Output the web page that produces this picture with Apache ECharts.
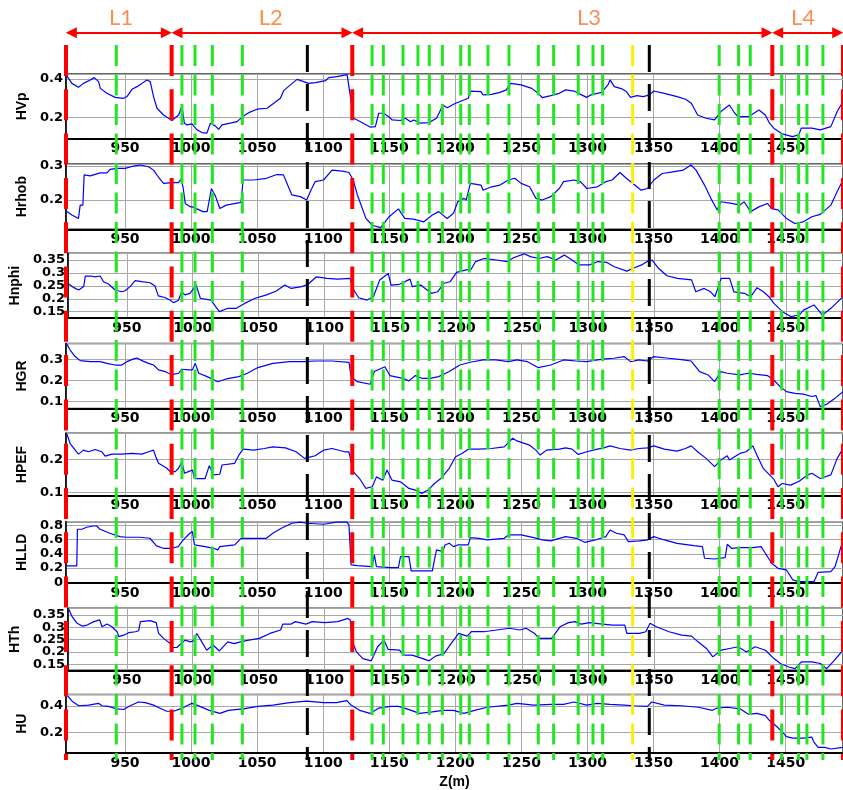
<!DOCTYPE html>
<html><head><meta charset="utf-8">
<script src="https://cdn.jsdelivr.net/npm/echarts@6/dist/echarts.min.js"></script>
<style>html,body{margin:0;padding:0;background:#fff}#c{width:843px;height:790px}</style>
</head><body><div id="c"></div>
<script>
// ---------- axis range (depth, m) ----------
const Z_MIN = 905.35, Z_MAX = 1493.4;

// ---------- curves ----------
const hvpZ = [906,909.8,914.8,918.6,923.7,926.7,930,931.3,936.3,942.6,948.9,951.5,955.3,959.1,962.8,966.6,969.1,971.6,974.2,979.2,983,985.5,990.6,993.1,994.9,996.9,1000.7,1004.5,1008.3,1012,1014.6,1018.3,1020.9,1023.4,1029.7,1034.8,1039.8,1043.6,1050,1057.5,1062.6,1067.6,1070.1,1075.2,1080.2,1085.3,1089,1094.1,1101.7,1104.2,1110.5,1118.1,1119.3,1120.6,1123.1,1128.2,1135.8,1139.5,1142,1145.8,1149.6,1152.2,1158.5,1162.3,1166,1168.6,1173.6,1179.9,1185.8,1190.6,1193.8,1200.2,1209.8,1211.4,1219.4,1221,1227.4,1233.8,1238.6,1241.8,1249.8,1257.8,1262.6,1265.8,1272.3,1278.7,1283.5,1289.9,1293.1,1299.5,1302.7,1310.7,1315.5,1317.1,1320.3,1326.2,1329.4,1332.6,1337.4,1342.2,1347,1350.2,1358.2,1367.8,1374.3,1378.6,1383.4,1389.8,1396.2,1401,1407.4,1410.6,1413.8,1421.8,1429.8,1434.6,1437.8,1441,1447.4,1455.1,1459.9,1461.8,1469.8,1476.2,1484.2,1489,1493.4];
const hvp = [.416,.377,.357,.377,.395,.407,.386,.351,.325,.304,.299,.308,.346,.36,.377,.395,.386,.308,.247,.212,.195,.183,.212,.259,.169,.16,.165,.134,.12,.117,.169,.155,.137,.16,.169,.177,.207,.224,.242,.247,.273,.299,.339,.369,.398,.386,.377,.381,.391,.407,.412,.423,.423,.308,.195,.177,.148,.151,.221,.221,.203,.186,.183,.195,.177,.186,.169,.172,.195,.264,.25,.273,.299,.337,.334,.317,.32,.33,.343,.377,.369,.351,.325,.303,.313,.325,.343,.337,.325,.304,.317,.33,.369,.395,.36,.348,.334,.304,.313,.308,.317,.337,.325,.308,.294,.273,.212,.195,.186,.23,.264,.23,.203,.203,.238,.212,.169,.143,.113,.099,.108,.143,.143,.134,.151,.23,.282];

const hrhobZ = [906,909.8,914.8,916.1,918.1,919.1,923.7,931.2,936.3,938.8,943.9,950.2,956.5,961.5,967.8,971.6,975.4,979.2,985.5,990.5,992.4,993.9,995.6,999.4,1001,1009,1012.2,1015.4,1018.6,1021.8,1026.6,1037.8,1039.4,1047.4,1057,1065,1069.9,1073.1,1076.3,1082.7,1087.5,1090.7,1093.9,1100.3,1106.7,1114.7,1119.5,1122.7,1125.9,1132.3,1137.1,1143.5,1149.9,1156.9,1161.7,1168.2,1176.2,1182.6,1187.4,1193.8,1198.6,1201.8,1206.6,1208.2,1211.4,1219.4,1221,1227.4,1233.8,1240.2,1245,1249.8,1256.2,1261,1265.8,1272.3,1278.7,1281.9,1289.9,1294.7,1299.5,1307.5,1313.9,1318.7,1324.6,1329.4,1335.8,1340.6,1345.4,1350.2,1356.6,1364.6,1372.6,1378.4,1382.2,1388.6,1393.4,1398.2,1400.9,1409,1415.4,1418.6,1423.4,1429.8,1436.2,1439.4,1444.2,1450.6,1457,1463.4,1469.8,1476.2,1484.2,1489,1493.4];
const hrhob = [.166,.156,.146,.185,.185,.274,.271,.28,.28,.29,.293,.293,.3,.303,.298,.288,.267,.249,.251,.251,.261,.239,.19,.18,.18,.166,.166,.234,.21,.175,.185,.193,.259,.259,.264,.275,.274,.244,.215,.21,.2,.229,.254,.259,.288,.285,.281,.259,.215,.146,.126,.119,.151,.174,.146,.144,.136,.156,.166,.146,.161,.195,.205,.2,.249,.244,.229,.239,.244,.259,.264,.249,.239,.205,.2,.21,.234,.254,.259,.254,.234,.239,.254,.259,.281,.264,.244,.229,.234,.259,.278,.283,.288,.303,.288,.244,.205,.171,.195,.19,.185,.195,.166,.18,.19,.175,.171,.146,.131,.136,.151,.158,.185,.225,.259];

const hnphiZ = [906,909.8,913.5,917.3,918.5,922.3,926,929.8,932.3,936.1,941.1,946.2,948.7,952.5,956.3,961.3,967.6,971.4,973.9,978.9,982.7,985.3,989.1,991.6,994.1,997.9,1002.6,1005.8,1013.8,1020.2,1026.6,1033,1039.4,1047.4,1055.4,1063.5,1069.9,1074.7,1082.7,1087.5,1093.9,1101.9,1109.9,1119.5,1121.1,1125.9,1132.3,1137.1,1141.9,1148.3,1150.5,1156.9,1164.9,1166.6,1173,1181,1185.8,1190.6,1195.4,1200.2,1206.6,1211.4,1214.6,1221,1230.6,1238.6,1243.4,1251.4,1256.2,1262.6,1269,1275.5,1281.9,1286.7,1293.1,1301.1,1307.5,1313.9,1319.8,1329.4,1334.2,1340.6,1345.4,1348.6,1353.4,1359.8,1367.8,1378.5,1381.7,1388.1,1392.9,1396.2,1401,1407.4,1410.6,1418.6,1423.4,1428.2,1433,1437.2,1441,1447.4,1453.8,1460.2,1463.4,1471.4,1477.8,1484.2,1493.4];
const hnphi = [.257,.243,.234,.247,.288,.288,.285,.288,.266,.257,.234,.227,.231,.247,.27,.266,.262,.249,.211,.205,.195,.185,.193,.227,.215,.221,.253,.202,.195,.15,.163,.163,.182,.202,.214,.23,.253,.24,.247,.256,.285,.279,.276,.279,.243,.204,.195,.208,.273,.298,.253,.256,.276,.247,.253,.221,.227,.26,.266,.302,.311,.315,.344,.356,.35,.344,.359,.374,.363,.356,.363,.35,.369,.354,.331,.331,.344,.341,.324,.307,.318,.331,.346,.35,.318,.289,.279,.273,.227,.24,.227,.208,.279,.279,.227,.221,.208,.243,.227,.208,.182,.15,.131,.137,.156,.176,.137,.163,.208];

const hgrZ = [906,908.5,912.3,916.1,923.7,931.2,936.3,942.6,947.6,951.4,956.5,959,962.8,967.8,971.6,975.4,980.4,982.9,986.7,990.5,993,998,1001,1003.2,1005.8,1012.2,1020.2,1026.6,1036.2,1042.6,1050.6,1061.9,1074.7,1085.9,1093.9,1106.7,1119.5,1121.1,1125.9,1135.5,1138.7,1146.7,1150.5,1160.1,1164.9,1169.8,1174.6,1181,1187.4,1195.4,1203.4,1211.4,1221,1230.6,1240.2,1246.6,1254.6,1262.6,1272.3,1281.9,1291.5,1299.5,1307.5,1313.9,1319.8,1327.8,1332.6,1339,1345.4,1350.2,1361.4,1372.6,1378.5,1384.9,1391.3,1396.2,1401,1405.8,1415.4,1421.8,1428.2,1436.2,1441,1445.8,1450.6,1457,1463.4,1469.8,1473,1476.2,1481,1487.4,1493.4];
const hgr = [.372,.344,.313,.294,.289,.289,.281,.273,.273,.289,.302,.306,.294,.281,.273,.25,.242,.234,.229,.234,.253,.25,.25,.281,.234,.218,.194,.207,.218,.234,.261,.281,.289,.289,.292,.292,.286,.218,.194,.182,.242,.265,.223,.21,.198,.223,.21,.21,.218,.242,.273,.286,.297,.297,.289,.297,.289,.261,.273,.297,.292,.289,.297,.302,.305,.313,.289,.297,.292,.313,.305,.297,.292,.242,.226,.194,.242,.234,.226,.234,.229,.223,.202,.171,.147,.139,.135,.124,.128,.076,.087,.116,.147];

const hpefZ = [906,908.5,912.3,914.8,918.6,922.4,927.4,932.5,935,940.1,947.6,955.2,962.8,967.8,971.6,973.3,975.4,981.7,984.2,988,990.5,993,995,998,1001,1002.6,1010.6,1013.8,1017,1021.8,1023.4,1033,1036.2,1039.4,1047.4,1055.4,1061.9,1071.5,1079.5,1085.9,1093.9,1100.3,1106.7,1116.3,1119.5,1122.7,1127.5,1132.3,1137.1,1140.3,1145.1,1148.3,1152.1,1158.5,1164.9,1169.8,1174.6,1179.4,1184.2,1189,1195.4,1200.2,1205,1209.8,1217.8,1227.4,1237,1243.4,1246.6,1256.2,1261,1264.2,1269,1278.7,1283.5,1288.3,1293.1,1299.5,1307.5,1312.3,1317.1,1324.6,1332.6,1339,1345.4,1350.2,1358.2,1367.8,1374.2,1378.5,1383.4,1389.8,1396.2,1401,1405.8,1407.4,1415.4,1420.2,1425.1,1428.2,1433,1437.8,1441,1444.2,1447.4,1453.8,1460.2,1466.6,1469.8,1476.2,1484.2,1489,1493.4];
const hpef = [.277,.248,.228,.216,.228,.223,.23,.223,.21,.216,.216,.218,.216,.223,.228,.208,.188,.173,.163,.163,.173,.193,.158,.163,.168,.142,.142,.181,.153,.155,.183,.188,.213,.231,.228,.233,.238,.235,.223,.203,.211,.228,.233,.223,.223,.163,.142,.112,.117,.147,.137,.168,.137,.132,.112,.107,.097,.107,.127,.142,.173,.208,.218,.231,.231,.233,.238,.264,.256,.243,.228,.213,.228,.231,.235,.231,.215,.223,.231,.235,.241,.233,.228,.233,.235,.241,.231,.225,.233,.241,.223,.203,.178,.198,.211,.198,.218,.223,.241,.213,.173,.153,.14,.117,.127,.122,.134,.153,.158,.142,.153,.203,.233];

const hlldZ = [906,913.5,914,917.3,921,926.1,928.6,931.1,938.6,946.2,951.2,961.3,968.8,973.9,978.9,985.2,990.3,994.1,999.1,1001,1002.6,1010.6,1017,1020.2,1021.8,1033,1037.8,1047.4,1057,1061.9,1068.3,1076.3,1082.7,1087.5,1100.3,1109.9,1117.9,1119.5,1121.1,1125.9,1137.1,1138.7,1140.3,1151,1156.9,1158.5,1164.9,1166.6,1182.6,1184.2,1185.8,1190.6,1192.2,1195.4,1198.6,1201.8,1209.8,1211.4,1217.8,1224.2,1237,1240.2,1249.8,1259.4,1265.8,1272.3,1278.7,1283.5,1291.5,1297.9,1305.9,1313.9,1317.1,1321.9,1327.8,1331,1339,1345.4,1350.2,1358.2,1367.8,1380.6,1387,1388.6,1396.2,1404.2,1405.8,1409,1415.4,1425.1,1431.4,1434.6,1439.4,1444.2,1450.6,1455.4,1460.2,1471.4,1474.6,1484.2,1487.4,1493.4];
const hlld = [.229,.229,.744,.744,.772,.79,.79,.744,.688,.641,.632,.632,.618,.51,.477,.477,.5,.594,.688,.711,.524,.5,.477,.454,.5,.524,.617,.617,.617,.688,.758,.828,.845,.828,.814,.845,.845,.805,.243,.234,.22,.384,.22,.206,.206,.36,.36,.159,.159,.313,.454,.43,.524,.547,.5,.524,.524,.627,.617,.594,.617,.664,.664,.627,.594,.58,.617,.641,.617,.561,.594,.641,.734,.688,.664,.571,.58,.594,.641,.594,.547,.515,.5,.337,.327,.346,.533,.477,.486,.486,.5,.407,.267,.196,.173,.033,.009,.009,.14,.15,.22,.594];

const hthZ = [906,908.5,912.3,916.1,919.9,924.9,929.4,931.2,935,938.8,942.6,943.9,947.6,951.4,956.5,959,960.3,967.8,972.3,974.1,977.9,982.9,984.2,988,991.8,994.3,998.1,1000.6,1003.1,1006.9,1010.6,1015.4,1020.2,1026.6,1031.4,1036.2,1042.6,1050.6,1058.6,1066.7,1068.3,1074.7,1077.9,1085.9,1090.7,1100.3,1109.9,1117.9,1119.5,1121.1,1124.3,1129.1,1135.5,1140.3,1145.1,1148.3,1156.9,1160.1,1166.5,1174.6,1179.4,1184.2,1190.6,1197,1201.8,1208.2,1211.4,1221,1230.6,1240.2,1248.2,1253,1259.4,1262.6,1272.3,1278.7,1285.1,1289.9,1294.7,1301.1,1310.7,1318.7,1327.8,1329.4,1339,1343.8,1347,1351.8,1361.4,1371,1378.5,1383.4,1389.8,1394.6,1401,1407.4,1413.8,1420.2,1426.6,1434.6,1441,1445.8,1452.2,1457,1461.8,1469.8,1476.2,1481,1485.8,1493.4];
const hth = [.373,.343,.316,.305,.309,.323,.33,.302,.313,.302,.282,.262,.268,.278,.282,.286,.323,.327,.319,.275,.255,.234,.218,.218,.237,.248,.241,.245,.275,.241,.207,.228,.204,.241,.234,.241,.248,.255,.275,.289,.313,.313,.323,.313,.323,.319,.323,.336,.33,.241,.2,.173,.164,.221,.248,.21,.207,.187,.187,.173,.164,.183,.193,.241,.275,.264,.282,.282,.289,.296,.289,.296,.275,.255,.255,.302,.319,.323,.313,.319,.313,.309,.309,.275,.275,.282,.316,.302,.282,.268,.264,.241,.214,.18,.207,.214,.221,.2,.221,.207,.173,.153,.139,.132,.16,.16,.153,.132,.16,.207];

const huZ = [906,910,915,922.4,930,932.5,937.5,943.9,948.9,953.9,960.2,965.3,971.6,976.6,981.6,986.7,991.7,996.8,1000.6,1004.4,1013.8,1021.8,1028.2,1039.4,1050.6,1061.9,1074.7,1087.5,1100.3,1109.9,1117.9,1121.1,1127.5,1135.5,1141.9,1151,1156.9,1163.3,1172.9,1182.6,1190.6,1198.6,1206.6,1214.6,1224.2,1240.2,1246.6,1259.4,1272.3,1281.9,1289.9,1299.5,1307.5,1317.1,1327.8,1335.8,1345.4,1348.6,1358.2,1371,1383.9,1394.6,1397.8,1405.8,1415.4,1421.8,1428.2,1434.6,1437.8,1442.6,1447.4,1450.6,1455.4,1463.4,1469.8,1471.4,1474.6,1479.4,1484.2,1493.4];
const hu = [.48,.434,.4,.405,.418,.4,.395,.377,.372,.4,.428,.423,.405,.382,.359,.359,.377,.4,.418,.405,.366,.343,.366,.377,.395,.405,.423,.434,.423,.423,.439,.405,.366,.343,.382,.395,.395,.377,.343,.354,.366,.366,.343,.366,.389,.405,.418,.405,.411,.411,.428,.405,.418,.411,.405,.4,.395,.428,.405,.4,.389,.366,.382,.389,.377,.336,.343,.326,.29,.251,.205,.17,.159,.159,.166,.129,.09,.09,.078,.09];

// ---------- panel names / y ranges ----------
const panelNames = ['HVp','Hrhob','Hnphi','HGR','HPEF','HLLD','HTh','HU'];
const panelZ = [hvpZ,hrhobZ,hnphiZ,hgrZ,hpefZ,hlldZ,hthZ,huZ];
const panelV = [hvp,hrhob,hnphi,hgr,hpef,hlld,hth,hu];
const yMin  = [0.088,0.114,0.1255,0.067,0.09,-0.01,0.1255,0.048];
const yMax  = [0.426,0.306,0.376,0.375,0.279,0.85,0.377,0.484];
const yStep = [0.2,0.1,0.05,0.1,0.1,0.2,0.05,0.2];

// ---------- markers ----------
const redLines = [905.35, 985.3, 1122, 1439.9, 1493.4];
const blackLines = [1088, 1346.8];
const yellowLines = [1334.2];
const greenLines = [943.4,993.1,1003,1016.1,1038.8,1137,1145.5,1160.4,1171.7,1180.3,1190.2,1204.1,1210.6,1224.7,1240.6,1262.8,1274.4,1293,1304.2,1311.5,1399.7,1414.4,1423.2,1447,1459.8,1466.1,1478.2];
const layerNames = ['L1','L2','L3','L4'];
const layerBounds = [905.35, 985.3, 1122, 1439.9, 1493.4];
const layerLabelZ = [947, 1060.3, 1301.1, 1463.1];

// ---------- layout (px) ----------
const panelTop = [74,164,253.3,343.5,433.3,521.7,608.3,694.5];
const panelH   = [64.7,65.3,64.7,65,62.4,61.3,62,63.2];

const grids = [], xAxes = [], yAxes = [], series = [];
const tickFont = {fontFamily:'DejaVu Sans', fontWeight:'bold', color:'#000'};
const gridLine = {show:true, lineStyle:{color:'#a8a8a8', width:1}};

panelNames.forEach((nm, i) => {
  grids.push({left:66, right:0, top:panelTop[i], height:panelH[i], show:true, borderColor:'#333', borderWidth:1.5});
  xAxes.push({
    gridIndex:i, type:'value', min:Z_MIN, max:Z_MAX, minInterval:50, maxInterval:50, splitNumber:12,
    axisLine:{show:true, onZero:false, lineStyle:{color:'#000', width:2}},
    axisTick:{show:false},
    axisLabel:Object.assign({show:true, showMinLabel:false, showMaxLabel:false, margin:3, fontSize:14,
      formatter: v => String(Math.round(v))}, tickFont),
    splitLine:gridLine,
    name: i === panelNames.length-1 ? 'Z(m)' : '',
    nameLocation:'middle', nameGap:22,
    nameTextStyle:{fontFamily:'Liberation Sans', fontWeight:'bold', fontSize:14, color:'#000'}
  });
  yAxes.push({
    gridIndex:i, type:'value', min:yMin[i], max:yMax[i], minInterval:yStep[i], maxInterval:yStep[i],
    name:nm, nameLocation:'middle', nameGap:30,
    nameTextStyle:{fontFamily:'Liberation Sans', fontWeight:'bold', fontSize:14, color:'#000'},
    axisLine:{show:true, onZero:false, lineStyle:{color:'#000', width:1.5}},
    axisTick:{show:false},
    axisLabel:Object.assign({showMinLabel:false, showMaxLabel:false, margin:3, fontSize:13}, tickFont),
    splitLine:gridLine
  });
  series.push({
    type:'line', xAxisIndex:i, yAxisIndex:i, silent:true, symbol:'none', z:2,
    lineStyle:{color:'#0000ff', width:1.2},
    data: panelZ[i].map((z, k) => [z, panelV[i][k]])
  });
});

// overlay grid for vertical marker lines
const OV = panelNames.length;
grids.push({left:66, right:0, top:45, bottom:30});
xAxes.push({gridIndex:OV, type:'value', min:Z_MIN, max:Z_MAX, show:false});
yAxes.push({gridIndex:OV, type:'value', min:0, max:1, show:false});

function vlines(list, color, width, dash) {
  list.forEach(z => series.push({
    type:'line', xAxisIndex:OV, yAxisIndex:OV, silent:true, symbol:'none', z:6, clip:false,
    lineStyle:{color:color, width:width, type:dash},
    data:[[z,1],[z,0]]
  }));
}
vlines(greenLines, '#22e622', 3, [21, 8.5]);
vlines(yellowLines, '#ffee00', 3, [21, 8.5]);
vlines(blackLines, '#000000', 3, [27, 12]);
vlines(redLines, '#ff0000', 4, [31, 13.3]);

// top header grid with arrows and layer names
const TP = OV + 1;
grids.push({left:66, right:0, top:0, height:45});
xAxes.push({gridIndex:TP, type:'value', min:Z_MIN, max:Z_MAX, show:false});
yAxes.push({gridIndex:TP, type:'value', min:0, max:1, show:false});
const arrowY = 0.273, inset = 4;
series.push({
  type:'scatter', xAxisIndex:TP, yAxisIndex:TP, silent:true, symbolSize:1, z:7,
  itemStyle:{color:'rgba(0,0,0,0)'},
  label:{show:true, position:'inside', formatter:'{b}', color:'#f7732a', fontSize:22, fontFamily:'Lato'},
  data: layerLabelZ.map((z, i) => ({name:layerNames[i], value:[z, 0.6]})),
  markLine:{
    silent:true, animation:false, symbol:['triangle','triangle'], symbolSize:11,
    label:{show:false},
    lineStyle:{color:'#ff0000', width:2, type:'solid'},
    data: layerNames.map((n, i) => [
      {coord:[layerBounds[i] + inset, arrowY]},
      {coord:[layerBounds[i+1] - inset, arrowY]}
    ])
  }
});

const chart = echarts.init(document.getElementById('c'), null, {renderer:'canvas'});
chart.setOption({animation:false, backgroundColor:'#fff', grid:grids, xAxis:xAxes, yAxis:yAxes, series:series});
</script>
</body></html>
